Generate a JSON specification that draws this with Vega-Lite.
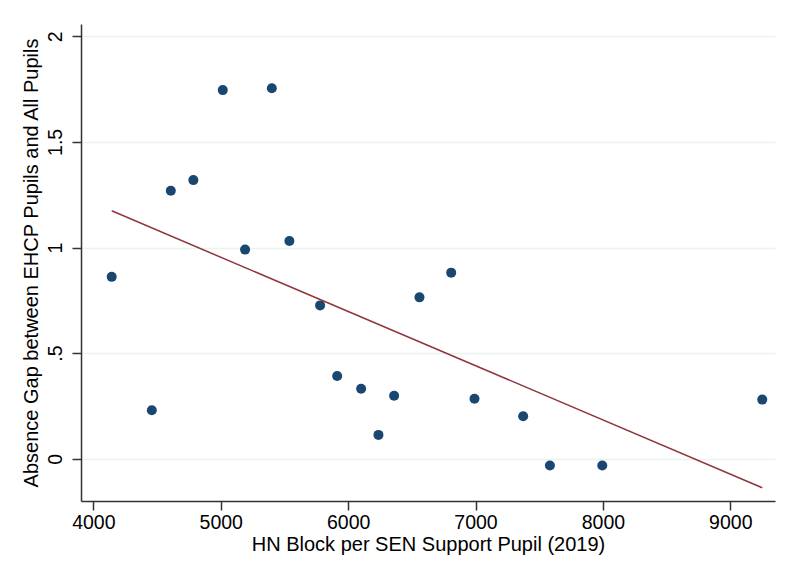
{
  "$schema": "https://vega.github.io/schema/vega-lite/v6.json",
  "width": 694,
  "height": 477,
  "autosize": {"type": "none"},
  "padding": {"left": 81, "top": 24, "right": 17, "bottom": 78},
  "background": "white",
  "config": {
    "view": {"stroke": null},
    "font": "Liberation Sans",
    "axis": {
      "labelFont": "Liberation Sans",
      "titleFont": "Liberation Sans",
      "labelFontSize": 19.5,
      "titleFontSize": 20,
      "titleFontWeight": "normal",
      "labelColor": "#000000",
      "titleColor": "#000000",
      "domainColor": "#333333",
      "tickColor": "#333333",
      "domainWidth": 1.5,
      "tickWidth": 1.5,
      "tickSize": 9
    }
  },
  "data": {
    "values": [
      {"x": 4144, "y": 0.861},
      {"x": 4459, "y": 0.230},
      {"x": 4608, "y": 1.269},
      {"x": 4785, "y": 1.319},
      {"x": 5016, "y": 1.745},
      {"x": 5191, "y": 0.990},
      {"x": 5401, "y": 1.754},
      {"x": 5539, "y": 1.031},
      {"x": 5780, "y": 0.726},
      {"x": 5914, "y": 0.392},
      {"x": 6102, "y": 0.331},
      {"x": 6238, "y": 0.113},
      {"x": 6361, "y": 0.298},
      {"x": 6560, "y": 0.764},
      {"x": 6809, "y": 0.881},
      {"x": 6992, "y": 0.284},
      {"x": 7374, "y": 0.201},
      {"x": 7584, "y": -0.032},
      {"x": 7995, "y": -0.032},
      {"x": 9251, "y": 0.280}
    ]
  },
  "layer": [
    {
      "mark": {"type": "circle", "size": 100, "opacity": 1, "color": "#1a476f"},
      "encoding": {
        "x": {
          "field": "x", "type": "quantitative",
          "scale": {"domain": [3903, 9351], "nice": false, "zero": false},
          "axis": {
            "title": "HN Block per SEN Support Pupil (2019)",
            "values": [4000, 5000, 6000, 7000, 8000, 9000],
            "format": "d",
            "grid": false,
            "labelPadding": 3,
            "titlePadding": 3
          }
        },
        "y": {
          "field": "y", "type": "quantitative",
          "scale": {"domain": [-0.2, 2.058], "nice": false, "zero": false},
          "axis": {
            "title": "Absence Gap between EHCP Pupils and All Pupils",
            "values": [0, 0.5, 1, 1.5, 2],
            "labelExpr": "datum.value == 0.5 ? '.5' : format(datum.value, '')",
            "labelAngle": -90,
            "labelAlign": "center",
            "labelBaseline": "bottom",
            "labelPadding": 7,
            "grid": true,
            "gridColor": "#eaf2f3",
            "gridWidth": 1.5,
            "titlePadding": 4
          }
        }
      }
    },
    {
      "transform": [{"regression": "y", "on": "x", "extent": [4144, 9251]}],
      "mark": {"type": "line", "color": "#90353b", "strokeWidth": 1.5},
      "encoding": {
        "x": {"field": "x", "type": "quantitative"},
        "y": {"field": "y", "type": "quantitative"}
      }
    }
  ]
}
